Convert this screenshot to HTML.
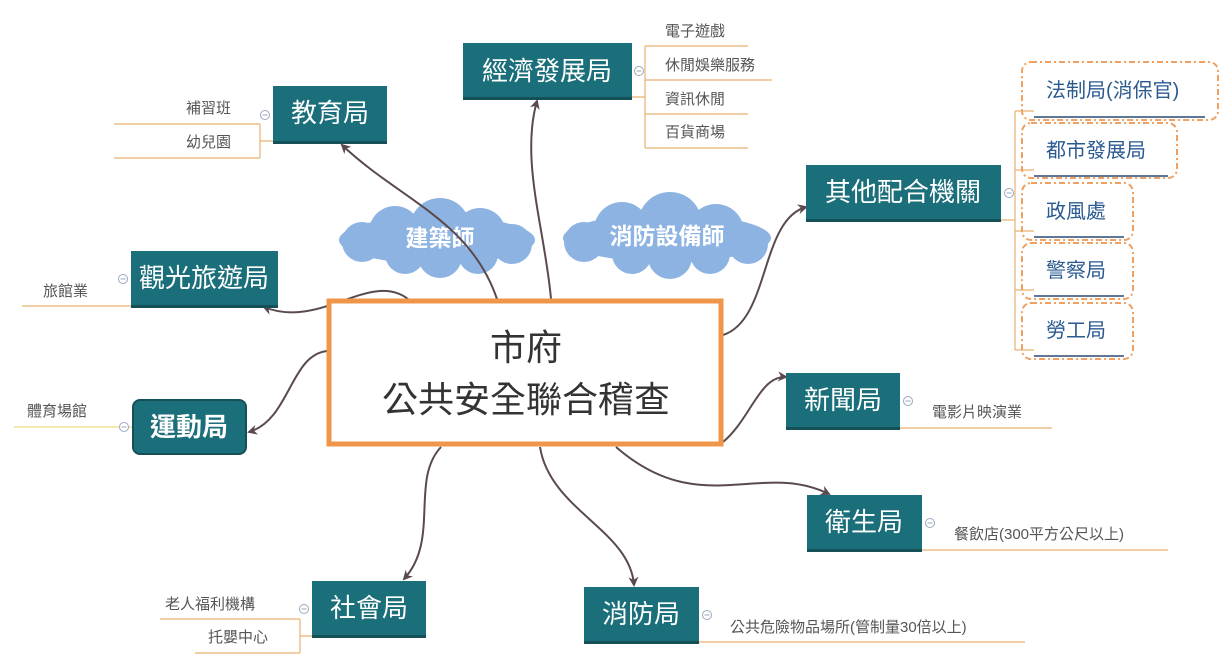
<!DOCTYPE html>
<html><head><meta charset="utf-8"><style>
html,body{margin:0;padding:0;background:#fff;}
svg{display:block;font-family:"Liberation Sans","Noto Sans CJK TC",sans-serif;}
</style></head><body>
<svg width="1231" height="669" viewBox="0 0 1231 669" xmlns="http://www.w3.org/2000/svg">
<defs>
<marker id="ar" markerWidth="10" markerHeight="10" refX="8" refY="5" orient="auto" markerUnits="userSpaceOnUse">
<path d="M0,0 L10,5 L0,10 L3,5 Z" fill="#5a4a4e"/>
</marker>
<g id="col"><circle r="4.5" fill="#fff" stroke="#9aa8c0" stroke-width="1"/><line x1="-2.5" y1="0" x2="2.5" y2="0" stroke="#9aa8c0" stroke-width="1"/></g>
</defs>

<!-- clouds -->
<g fill="#8db3e2">
<ellipse cx="437" cy="240" rx="98" ry="24"/>
<circle cx="395" cy="232" r="26"/><circle cx="440" cy="228" r="30"/><circle cx="480" cy="234" r="26"/>
<circle cx="405" cy="254" r="20"/><circle cx="440" cy="256" r="22"/><circle cx="478" cy="254" r="20"/><circle cx="362" cy="242" r="20"/><circle cx="512" cy="244" r="20"/>
<ellipse cx="667" cy="238" rx="104" ry="24"/>
<circle cx="622" cy="230" r="28"/><circle cx="670" cy="224" r="32"/><circle cx="716" cy="232" r="28"/>
<circle cx="632" cy="254" r="20"/><circle cx="670" cy="257" r="22"/><circle cx="710" cy="254" r="20"/><circle cx="584" cy="242" r="20"/><circle cx="748" cy="244" r="20"/>
</g>
<text x="440" y="246" font-size="23" font-weight="bold" fill="#fff" text-anchor="middle">建築師</text>
<text x="667" y="244" font-size="23" font-weight="bold" fill="#fff" text-anchor="middle">消防設備師</text>

<!-- connectors -->
<g fill="none" stroke="#5a4a4e" stroke-width="2" marker-end="url(#ar)">
<path d="M497,299 C470,220 400,200 342,145"/>
<path d="M551,299 C545,230 520,160 537,101"/>
<path d="M408,299 C370,270 320,330 264,307"/>
<path d="M327,351 C290,355 290,420 249,432"/>
<path d="M441,447 C410,480 440,540 404,579"/>
<path d="M540,447 C550,510 630,530 634,585"/>
<path d="M616,447 C700,520 760,460 829,494"/>
<path d="M723,442 C750,420 760,375 786,377"/>
<path d="M723,335 C770,320 760,220 806,207"/>
</g>

<!-- center -->
<rect x="329" y="301" width="392" height="143" fill="#fff" stroke="#f0964a" stroke-width="5"/>
<text x="526" y="360" font-size="36" fill="#333" text-anchor="middle">市府</text>
<text x="526" y="412" font-size="36" fill="#333" text-anchor="middle">公共安全聯合稽查</text>

<!-- sub lines -->
<g stroke="#e8b070" stroke-width="1.2" fill="none">
<path d="M632,97 H645 M645,46 V148 M645,46 H748 M645,80 H772 M645,114 H748 M645,148 H748"/>
<path d="M114,124 H260 M114,158 H260 M260,124 V158 M260,141 H273"/>
<path d="M22,306 H131"/>
<path d="M160,619 H300 M195,653 H300 M300,619 V653 M300,636 H312"/>
<path d="M699,642 H1025"/>
<path d="M922,550 H1168"/>
<path d="M900,428 H1052"/>
<path d="M1001,220 H1015 M1015,111 V350 M1015,111 H1034 M1015,170 H1034 M1015,231 H1034 M1015,290 H1034 M1015,350 H1034"/>
</g>
<path d="M14,427 H132" stroke="#f0dc80" stroke-width="1.2"/>

<!-- sub texts -->
<g font-size="15" fill="#555">
<text x="665" y="36">電子遊戲</text>
<text x="665" y="70">休閒娛樂服務</text>
<text x="665" y="104">資訊休閒</text>
<text x="665" y="137">百貨商場</text>
<text x="186" y="113">補習班</text>
<text x="186" y="147">幼兒園</text>
<text x="43" y="296">旅館業</text>
<text x="27" y="416">體育場館</text>
<text x="165" y="609">老人福利機構</text>
<text x="208" y="642">托嬰中心</text>
<text x="730" y="632">公共危險物品場所(管制量30倍以上)</text>
<text x="954" y="539">餐飲店(300平方公尺以上)</text>
<text x="932" y="417">電影片映演業</text>
</g>

<!-- other agencies -->
<g fill="none" stroke="#f0a060" stroke-width="2" stroke-dasharray="6,3,2,3">
<rect x="1022" y="62" width="196" height="58" rx="9"/>
<rect x="1022" y="123" width="155" height="55" rx="9"/>
<rect x="1022" y="183" width="111" height="57" rx="9"/>
<rect x="1022" y="243" width="111" height="56" rx="9"/>
<rect x="1022" y="303" width="111" height="56" rx="9"/>
</g>
<g stroke="#2a4a70" stroke-width="1.5">
<line x1="1034" y1="117" x2="1205" y2="117"/>
<line x1="1034" y1="176" x2="1168" y2="176"/>
<line x1="1034" y1="237" x2="1124" y2="237"/>
<line x1="1034" y1="296" x2="1124" y2="296"/>
<line x1="1034" y1="356" x2="1124" y2="356"/>
</g>
<g font-size="20" fill="#2a5a90">
<text x="1046" y="97">法制局(消保官)</text>
<text x="1046" y="157">都市發展局</text>
<text x="1046" y="218">政風處</text>
<text x="1046" y="277">警察局</text>
<text x="1046" y="337">勞工局</text>
</g>

<!-- nodes -->
<g fill="#1b6f7a">
<rect x="463" y="43" width="169" height="56"/>
<rect x="273" y="86" width="114" height="57"/>
<rect x="131" y="251" width="147" height="56"/>
<rect x="312" y="581" width="114" height="56"/>
<rect x="584" y="587" width="115" height="56"/>
<rect x="807" y="495" width="115" height="56"/>
<rect x="786" y="373" width="114" height="56"/>
<rect x="806" y="165" width="195" height="56"/>
</g>
<rect x="133" y="400" width="113" height="54" rx="7" fill="#1b6f7a" stroke="#145058" stroke-width="2"/>
<g fill="#145058">
<rect x="463" y="97" width="169" height="3"/>
<rect x="273" y="141" width="114" height="3"/>
<rect x="131" y="305" width="147" height="3"/>
<rect x="312" y="635" width="114" height="3"/>
<rect x="584" y="641" width="115" height="3"/>
<rect x="807" y="549" width="115" height="3"/>
<rect x="786" y="427" width="114" height="3"/>
<rect x="806" y="219" width="195" height="3"/>
</g>
<g font-size="26" fill="#fff" text-anchor="middle">
<text x="547" y="80">經濟發展局</text>
<text x="330" y="122">教育局</text>
<text x="204" y="287">觀光旅遊局</text>
<text x="369" y="617">社會局</text>
<text x="641" y="623">消防局</text>
<text x="864" y="531">衛生局</text>
<text x="843" y="409">新聞局</text>
<text x="903" y="201">其他配合機關</text>
<text x="189" y="436" font-weight="bold">運動局</text>
</g>

<!-- collapse icons -->
<use href="#col" x="639" y="71"/>
<use href="#col" x="265" y="115"/>
<use href="#col" x="123" y="279"/>
<use href="#col" x="124" y="427"/>
<use href="#col" x="304" y="609"/>
<use href="#col" x="707" y="615"/>
<use href="#col" x="930" y="523"/>
<use href="#col" x="908" y="401"/>
<use href="#col" x="1009" y="193"/>
</svg>
</body></html>
